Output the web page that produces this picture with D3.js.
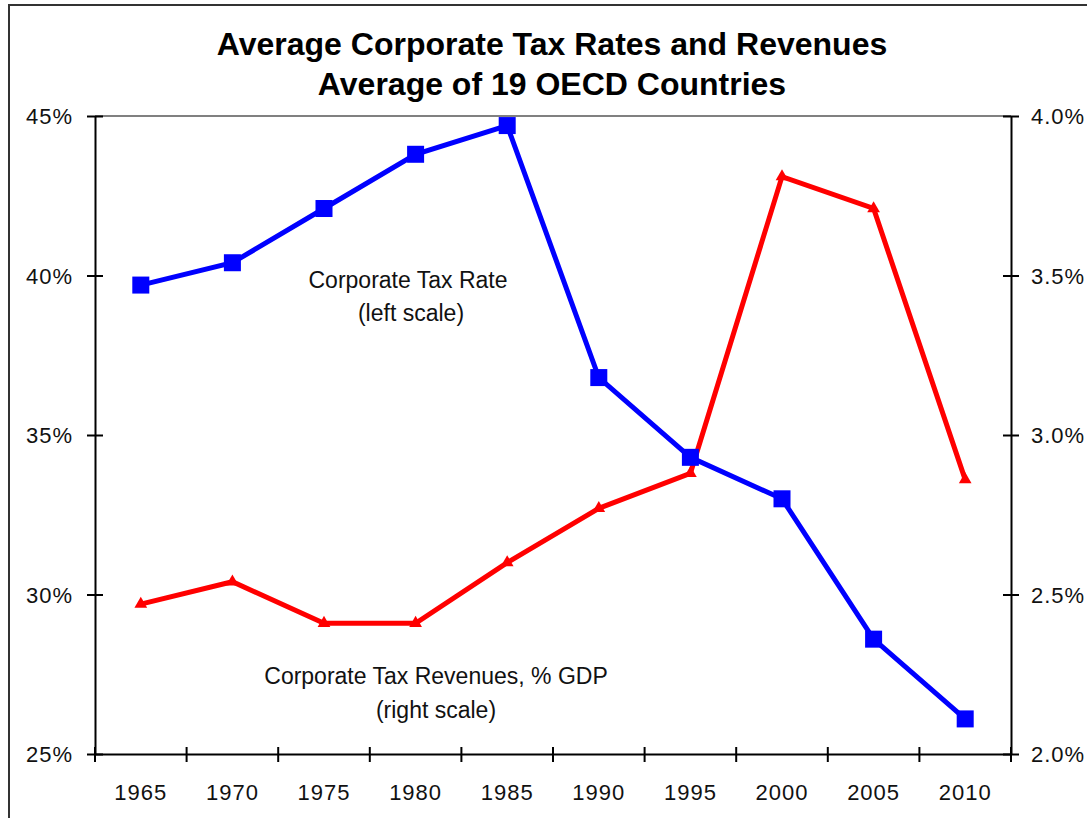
<!DOCTYPE html>
<html><head><meta charset="utf-8">
<script src="https://cdn.jsdelivr.net/npm/d3@7"></script>
<style>
html,body{margin:0;padding:0;background:#fff;}
svg{display:block;font-family:"Liberation Sans",Arial,sans-serif;}
</style></head>
<body>
<svg id="chart" width="1087" height="818"></svg>
<script>
const years = ["1965","1970","1975","1980","1985","1990","1995","2000","2005","2010"];
const taxRate = [39.7, 40.4, 42.1, 43.8, 44.7, 36.8, 34.3, 33.0, 28.6, 26.1];
const taxRevenue = [2.47, 2.54, 2.41, 2.41, 2.60, 2.77, 2.88, 3.81, 3.71, 2.86];
const leftTicks = [25, 30, 35, 40, 45];
const rightTicks = [2.0, 2.5, 3.0, 3.5, 4.0];
const titleLines = ["Average Corporate Tax Rates and Revenues", "Average of 19 OECD Countries"];

const svg = d3.select("#chart");
const L = 95, R = 1011, T = 116, B = 754;

const x = d3.scaleBand().domain(years).range([L, R]).paddingInner(0).paddingOuter(0);
const yL = d3.scaleLinear().domain([25, 45]).range([B, T]);
const yR = d3.scaleLinear().domain([2.0, 4.0]).range([B, T]);

// outer chart border
svg.append("rect").attr("x", 9).attr("y", 5).attr("width", 1200).attr("height", 1000)
  .attr("fill", "none").attr("stroke", "#333").attr("stroke-width", 2);

// title
svg.append("g").selectAll("text").data(titleLines).join("text")
  .attr("x", 552).attr("y", (d, i) => 55 + i * 40)
  .attr("text-anchor", "middle").attr("font-weight", "bold").attr("font-size", 32)
  .attr("fill", "#000").text(d => d);

// plot top border
svg.append("line").attr("x1", L).attr("x2", R).attr("y1", T).attr("y2", T)
  .attr("stroke", "#808080").attr("stroke-width", 2);

// left axis
const gL = svg.append("g").attr("transform", `translate(${L},0)`)
  .call(d3.axisLeft(yL).tickValues(leftTicks).tickFormat(d => d + "%").tickSizeInner(8).tickSizeOuter(0).tickPadding(14));
gL.selectAll(".tick line").attr("x1", -8).attr("x2", 8);
// right axis
const gR = svg.append("g").attr("transform", `translate(${R},0)`)
  .call(d3.axisRight(yR).tickValues(rightTicks).tickFormat(d => d.toFixed(1) + "%").tickSizeInner(8).tickSizeOuter(0).tickPadding(12));
gR.selectAll(".tick line").attr("x1", -8).attr("x2", 8);

// bottom axis (category axis, ticks between categories)
const gB = svg.append("g").attr("transform", `translate(0,${B})`)
  .call(d3.axisBottom(x).tickSize(0).tickPadding(0));
gB.selectAll(".tick text").attr("dy", null).attr("y", 46);
const bounds = years.map(d => x(d)).concat([R]);
gB.selectAll(".between").data(bounds).join("line").attr("class", "between")
  .attr("x1", d => d).attr("x2", d => d).attr("y1", -7).attr("y2", 8)
  .attr("stroke", "#000").attr("stroke-width", 2);

[gL, gR, gB].forEach(g => {
  g.select(".domain").attr("stroke", "#000").attr("stroke-width", 2);
  g.selectAll(".tick line").attr("stroke", "#000").attr("stroke-width", 2);
  g.selectAll(".tick text").attr("font-size", 22).attr("fill", "#111")
    .attr("font-family", "'Liberation Sans',Arial,sans-serif").attr("letter-spacing", 1);
});
gL.selectAll(".tick text").attr("dy", "0.35em");
gR.selectAll(".tick text").attr("dy", "0.35em");

const cx = d => x(d) + x.bandwidth() / 2;

// red line (revenues, right scale)
const redData = years.map((d, i) => ({ year: d, v: taxRevenue[i] }));
svg.append("path").datum(redData)
  .attr("d", d3.line().x(d => cx(d.year)).y(d => yR(d.v)))
  .attr("fill", "none").attr("stroke", "#f00").attr("stroke-width", 5).attr("stroke-linejoin", "miter");
svg.append("g").selectAll("path").data(redData).join("path")
  .attr("d", d3.symbol().type(d3.symbolTriangle).size(70))
  .attr("transform", d => `translate(${cx(d.year)},${yR(d.v)})`)
  .attr("fill", "#f00");

// blue line (rates, left scale)
const blueData = years.map((d, i) => ({ year: d, v: taxRate[i] }));
svg.append("path").datum(blueData)
  .attr("d", d3.line().x(d => cx(d.year)).y(d => yL(d.v)))
  .attr("fill", "none").attr("stroke", "#00f").attr("stroke-width", 5);
svg.append("g").selectAll("rect").data(blueData).join("rect")
  .attr("x", d => cx(d.year) - 8.5).attr("y", d => yL(d.v) - 8.5)
  .attr("width", 17).attr("height", 17).attr("fill", "#00f");

// annotations
const ann = [
  { t: "Corporate Tax Rate", x: 408, y: 288 },
  { t: "(left scale)", x: 411, y: 321 },
  { t: "Corporate Tax Revenues, % GDP", x: 436, y: 684 },
  { t: "(right scale)", x: 436, y: 718 }
];
svg.append("g").selectAll("text").data(ann).join("text")
  .attr("x", d => d.x).attr("y", d => d.y).attr("text-anchor", "middle")
  .attr("font-size", 23).attr("fill", "#111").text(d => d.t);
</script>
</body></html>
